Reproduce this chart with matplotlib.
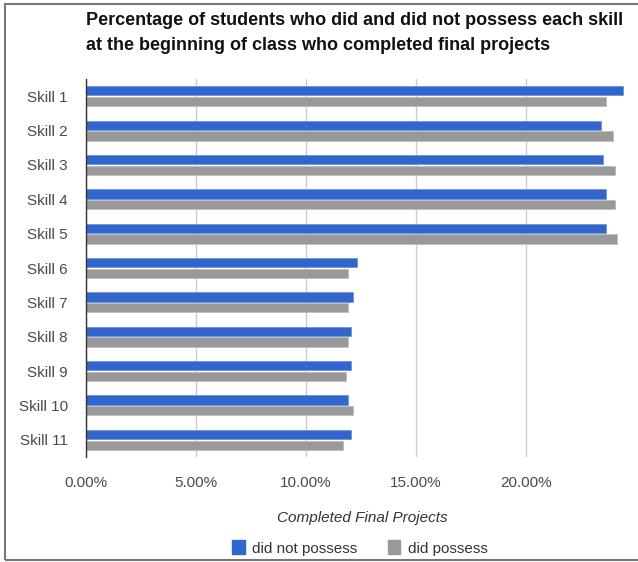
import numpy as np
import matplotlib
matplotlib.use("Agg")
import matplotlib.pyplot as plt
from matplotlib.patches import Patch, Rectangle

plt.rcParams["font.family"] = ["Liberation Sans", "DejaVu Sans"]

skills = ["Skill 1", "Skill 2", "Skill 3", "Skill 4", "Skill 5", "Skill 6",
          "Skill 7", "Skill 8", "Skill 9", "Skill 10", "Skill 11"]
did_not_possess = [24.41, 23.42, 23.51, 23.62, 23.62, 12.33,
                   12.14, 12.03, 12.03, 11.92, 12.03]
did_possess = [23.62, 23.94, 24.05, 24.05, 24.15, 11.92,
               11.92, 11.92, 11.83, 12.14, 11.67]
x_ticks = [0, 5, 10, 15, 20]

BLUE = "#3366cc"
GRAY = "#999999"

W, H = 638, 562
fig = plt.figure(figsize=(W / 100, H / 100), dpi=100)
ax = fig.add_axes([86 / W, 1 - 457 / H, 1 - 86 / W, (457 - 79) / H])

y = np.arange(len(skills))
bh = 0.27
ax.barh(y - 0.155, did_not_possess, height=bh, color=BLUE,
        edgecolor="#6f94dd", linewidth=0.6, zorder=3)
ax.barh(y + 0.155, did_possess, height=bh, color=GRAY,
        edgecolor="#bdbdbd", linewidth=0.6, zorder=3)

ax.set_ylim(len(skills) - 0.5, -0.5)
ax.set_yticks(y)
ax.set_yticklabels(skills)
ax.set_xlim(0, (W - 86) / 22.0)
ax.set_xticks(x_ticks)
ax.set_xticklabels([f"{v:.2f}%" for v in x_ticks])
ax.tick_params(axis="both", length=0, labelsize=11, labelcolor="#4a4a4a")
ax.tick_params(axis="y", pad=13)
ax.tick_params(axis="x", pad=14)
ax.grid(axis="x", color="#cccccc", linewidth=1.0, zorder=0)
for side in ("top", "right", "bottom"):
    ax.spines[side].set_visible(False)
ax.spines["left"].set_color("#333333")
ax.spines["left"].set_linewidth(1.0)
ax.spines["left"].set_zorder(4)

ax.set_xlabel("Completed Final Projects", fontsize=11, style="italic",
              color="#333333", labelpad=15)

fig.text(86 / W, 1 - 12 / H,
         "Percentage of students who did and did not possess each skill\n"
         "at the beginning of class who completed final projects",
         ha="left", va="top", fontsize=13.0, fontweight="bold", color="#111111",
         linespacing=1.62)

handles = [Patch(facecolor=BLUE, edgecolor=BLUE, label="did not possess"),
           Patch(facecolor=GRAY, edgecolor=GRAY, label="did possess")]
fig.legend(handles=handles, loc="center", bbox_to_anchor=(360 / W, 1 - 548 / H),
           ncol=2, frameon=False, fontsize=11, handlelength=0.8,
           handleheight=1.0, handletextpad=0.5, columnspacing=2.0,
           labelcolor="#333333")

# outer frame around the chart
fig.add_artist(Rectangle((5 / W, 2 / H), 1.2, 1 - 6 / H,
                         transform=fig.transFigure, fill=False,
                         edgecolor="#777777", linewidth=1.5))

fig.savefig("out.png", dpi=100)
